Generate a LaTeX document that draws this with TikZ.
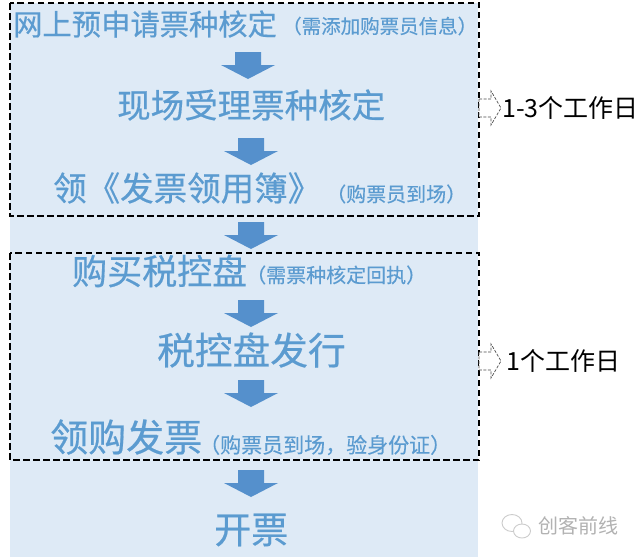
\documentclass[tikz,border=0pt]{standalone}
\usepackage{fontspec}
\newfontfamily\cjk{Noto Sans CJK SC}
\definecolor{panel}{HTML}{DEEAF6}
\definecolor{bluetxt}{HTML}{5B9BD0}
\definecolor{arrowblue}{HTML}{5590CC}
\tikzset{
 x=1pt,y=-1pt,
 big/.style={inner sep=0,text=bluetxt,anchor=west,font=\cjk\addfontfeature{FakeBold=0.5}\fontsize{#1}{#1}\selectfont},
 note/.style={inner sep=0,text=bluetxt,anchor=west,font=\cjk\addfontfeature{FakeBold=0.3}\fontsize{#1}{#1}\selectfont},
 blk/.style={inner sep=0,text=black,anchor=west,font=\cjk\fontsize{#1}{#1}\selectfont},
 dbox/.style={draw=black,line width=2.2pt,dash pattern=on 6.5pt off 3.5pt},
 downarrow/.pic={\fill[arrowblue] (-13,-13)--(13,-13)--(13,0)--(27,0)--(0,14)--(-27,0)--(-13,0)--cycle;},
 sidearrow/.pic={\draw[black!70,fill=white,dash pattern=on 3pt off 1.5pt,line width=.7pt]
   (-11,-9)--(1,-9)--(1,-17)--(11,0)--(1,17)--(1,9)--(-11,9)--cycle;},
}
\begin{document}
\begin{tikzpicture}
\useasboundingbox (0,0) rectangle (640,557);
\fill[white] (0,0) rectangle (640,557);
\fill[panel] (10,3) rectangle (478,557);

\node[big=29.3] (t1) at (13,24) {网上预申请票种核定};
\node[note=19.5] (n1) at (282,26) {（需添加购票员信息）};
\node[big=33.5] (t2) at (117,105) {现场受理票种核定};
\node[big=33.5] (t3) at (53,188) {领《发票领用簿》};
\node[note=20] (n3) at (326,194) {（购票员到场）};
\node[big=35] (t4) at (72,271) {购买税控盘};
\node[note=20] (n4) at (246,275) {（需票种核定回执）};
\node[big=37.7] (t5) at (157,350) {税控盘发行};
\node[big=38] (t6) at (50,437) {领购发票};
\node[note=21] (n6) at (199,445) {（购票员到场，验身份证）};
\node[big=37] (t7) at (214,530) {开票};

\draw[dbox] (10,3) rectangle (479,216);
\draw[dbox] (10,253) rectangle (479,460);

\pic at (248,65) {downarrow};
\pic at (251,151) {downarrow};
\pic at (251,235) {downarrow};
\pic at (251,313) {downarrow};
\pic at (251,393) {downarrow};
\pic at (251,483) {downarrow};

\pic at (490,108) {sidearrow};
\pic at (490,361) {sidearrow};
\node[blk=25] (d1) at (502,108) {1-3个工作日};
\node[blk=25] (d2) at (506,361) {1个工作日};

\draw[black!20,line width=.9pt,fill=white] (512,523) ellipse (10pt and 8.5pt);
\draw[black!20,line width=.9pt,fill=white] (522,531) ellipse (8.5pt and 7pt);
\node[inner sep=0,anchor=west,text=black!30,font=\cjk\fontsize{20}{20}\selectfont] (w) at (538,526) {创客前线};
\end{tikzpicture}
\end{document}
